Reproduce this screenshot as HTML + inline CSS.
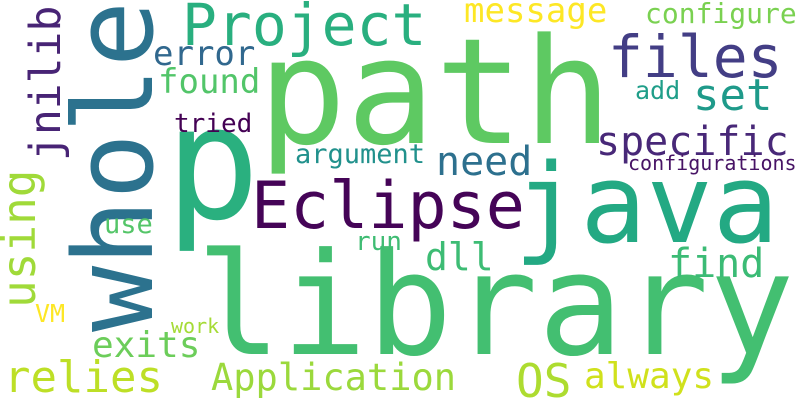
<!DOCTYPE html>
<html><head><meta charset="utf-8"><style>
html,body{margin:0;padding:0;background:#fff}
svg{display:block}
text{font-family:"DejaVu Sans Mono","Liberation Mono",monospace}
</style></head><body>
<svg width="800" height="400" viewBox="0 0 800 400">
<rect width="800" height="400" fill="#fff"/>
<g id="words"></g>
</svg>
<script>
const words = ["library","path","p","java","Eclipse","whole","Project","error","found","tried","argument","message","configure","files","set","add","specific","need","configurations","dll","find","run","use","using","jnilib","VM","work","exits","relies","Application","OS","always"];
const sizes = [142,147,158,110,65,110,58,34,34,26,27,34,28,58,44,25,40,40,20,38,40,26,27,46,43,25,20,36,44,37,46,36];
const xs = [196,258,165,514,251,152,182,153,158,174,295,464,645,608,693,635,596,436,628,425,668,355,104,35,60,35,171,92,4,211,516,584];
const ys = [354,143,218,242,228,332,45,65,93,132,163,22,23,77,110,99,155,175,170,270,277,250,233,308,161,322,333,357,392,390,397,388];
const rot = [0,0,0,0,0,1,0,0,0,0,0,0,0,0,0,0,0,0,0,0,0,0,0,1,1,0,0,0,0,0,0,0];
const colors = ["#43bf71","#5ec962","#2ab07f","#23a983","#450457","#2c728e","#29af7f","#31688e","#52c569","#440154","#21918c","#fde725","#7ad151","#433e85","#1f9a8a","#1f9e89","#482878","#2d708e","#471365","#3dbc74","#3bbb75","#3fbc73","#54c568","#a0da39","#482475","#fde725","#a5db36","#6ccd5a","#bddf26","#9bd93c","#addc30","#d0e11c"];
const g = document.getElementById('words');
words.forEach((w,i)=>{
  const t = document.createElementNS('http://www.w3.org/2000/svg','text');
  
  
  t.setAttribute('font-size', sizes[i]);
  t.setAttribute('fill', colors[i]);
  if (rot[i]) {
    t.setAttribute('transform', 'translate(' + xs[i] + ',' + ys[i] + ') rotate(-90)');
  } else {
    t.setAttribute('x', xs[i]);
    t.setAttribute('y', ys[i]);
  }
  t.textContent = w;
  g.appendChild(t);
});
</script>
</body></html>
